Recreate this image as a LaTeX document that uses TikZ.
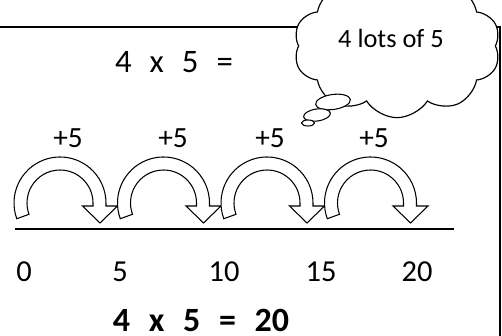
\documentclass[tikz,border=0pt]{standalone}
\usepackage{fontspec}
\setmainfont{Carlito}
\usetikzlibrary{shapes.symbols, shapes.geometric}

\newcommand{\gp}{\hspace{0.55em}}

\begin{document}
\begin{tikzpicture}[
    x=0.03cm, y=0.03cm,
    jump/.style={draw=black, fill=white, line width=0.9pt, line join=miter},
    plus/.style={font=\fontsize{25}{25}\selectfont, inner sep=0pt},
    tick/.style={font=\fontsize{26}{26}\selectfont, inner sep=0pt},
    sum/.style={font=\fontsize{28}{28}\selectfont, inner sep=0pt},
    bubble/.style={ellipse, draw, fill=white, line width=0.9pt, inner sep=0pt}
]
    \useasboundingbox (0,0) rectangle (502,336);
    \clip (0,0) rectangle (502,336);

    % Frame (open at left and bottom)
    \coordinate (frameL) at (-10,309);
    \coordinate (frameR) at (500,-10);
    \draw[line width=1.2pt] (frameL) -| (frameR);

    % Thought cloud
    \node[cloud, draw, fill=white, line width=1pt, cloud puffs=10, cloud puff arc=115,
          cloud ignores aspect, minimum width=6.2cm, minimum height=4.3cm] (cloud) at (397,290) {};
    \node[font=\fontsize{22.5}{22.5}\selectfont, inner sep=0pt] (lots) at (391,298) {4 lots of 5};
    \node[bubble, minimum width=35*0.03cm, minimum height=15*0.03cm, rotate=8] (b1) at (333,234) {};
    \node[bubble, minimum width=27*0.03cm, minimum height=12*0.03cm, rotate=8] (b2) at (317,221) {};
    \node[bubble, minimum width=13*0.03cm, minimum height=6*0.03cm] (b3) at (308,213) {};

    % Jumps of five
    \foreach \cx in {60,163.5,267,370.5} {
        \draw[jump] ([shift={(200:46)}]\cx,133) arc[start angle=200, end angle=0, radius=46]
            -- ++(0,-3) -- ++(11.5,0) -- (\cx+40,113) -- (\cx+22.5,130) -- (\cx+33,130)
            -- (\cx+33,133) arc[start angle=0, end angle=200, radius=33] -- cycle;
    }

    % Number line
    \coordinate (lineL) at (15,107);
    \coordinate (lineR) at (454,107);
    \draw[line width=1.6pt] (lineL) -- (lineR);

    % Labels
    \node[plus] (p1) at (68,198)  {+5};
    \node[plus] (p2) at (173,198) {+5};
    \node[plus] (p3) at (270,198) {+5};
    \node[plus] (p4) at (374,198) {+5};

    \node[tick] (t0)  at (24,64)  {0};
    \node[tick] (t5)  at (120,64) {5};
    \node[tick] (t10) at (224,64) {10};
    \node[tick] (t15) at (321,64) {15};
    \node[tick] (t20) at (417,64) {20};

    \node[sum] (question) at (174,274) {4\gp x\gp 5\gp =};
    \node[sum, font=\fontsize{29}{29}\selectfont\bfseries] (answer) at (201,16) {4\gp x\gp 5\gp =\gp 20};
\end{tikzpicture}
\end{document}
